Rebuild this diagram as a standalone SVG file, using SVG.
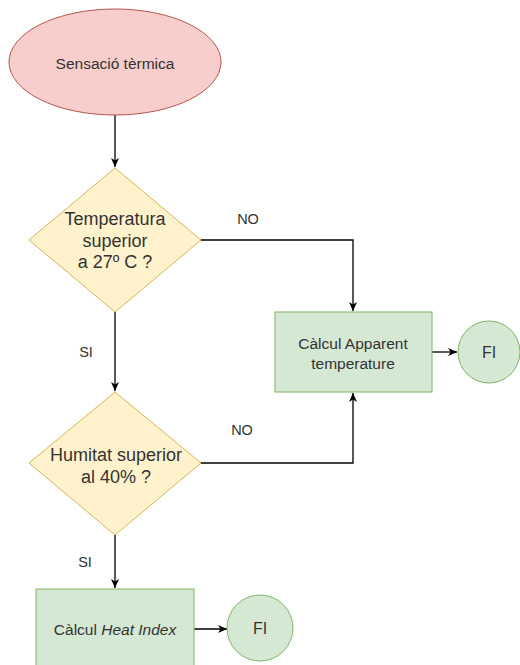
<svg xmlns="http://www.w3.org/2000/svg" width="520" height="665" viewBox="0 0 520 665">
<defs>
<marker id="arr" markerWidth="10" markerHeight="10" refX="9" refY="4" orient="auto" markerUnits="userSpaceOnUse">
<path d="M0,0 L9,4 L0,8 L2.5,4 Z" fill="#000"/>
</marker>
<style>
text{font-family:"Liberation Sans",Arial,sans-serif;fill:#333;text-anchor:middle;dominant-baseline:central}
.start{fill:#f8cecc;stroke:#b85450;stroke-width:1}
.dec{fill:#fff2cc;stroke:#d6b656;stroke-width:1}
.proc{fill:#d5e8d4;stroke:#82b366;stroke-width:1}
.edge{fill:none;stroke:#000;stroke-width:1.3;marker-end:url(#arr)}
.big{font-size:18px}
.mid{font-size:15.5px}
.lbl{font-size:14.5px}
.fi{font-size:16px}
</style>
</defs>
<rect width="520" height="665" fill="#fff"/>
<g id="connectors">
<path class="edge" d="M115,115 V167"/>
<path class="edge" d="M201,240 H353 V311"/>
<path class="edge" d="M115,312 V391"/>
<path class="edge" d="M201,463 H353 V393"/>
<path class="edge" d="M115,535 V588"/>
<path class="edge" d="M432,352 H457"/>
<path class="edge" d="M194,629 H227"/>
</g>
<g id="edge-labels">
<text class="lbl" x="248" y="219">NO</text>
<text class="lbl" x="86" y="352">SI</text>
<text class="lbl" x="242" y="430">NO</text>
<text class="lbl" x="85" y="562">SI</text>
</g>
<g id="start">
<ellipse class="start" cx="115" cy="62" rx="106" ry="53"/>
<text class="mid" x="115" y="63">Sensació tèrmica</text>
</g>
<g id="dec-temp">
<polygon class="dec" points="115,168 201,240 115,312 29,240"/>
<text class="big" x="115" y="219">Temperatura</text>
<text class="big" x="115" y="241">superior</text>
<text class="big" x="115" y="262">a 27º C ?</text>
</g>
<g id="dec-hum">
<polygon class="dec" points="115,392 201,463 115,535 29,463"/>
<text class="big" x="116" y="455">Humitat superior</text>
<text class="big" x="116" y="477">al 40% ?</text>
</g>
<g id="proc-apparent">
<rect class="proc" x="275" y="312" width="157" height="80"/>
<text class="mid" x="353" y="343">Càlcul Apparent</text>
<text class="mid" x="353" y="363">temperature</text>
</g>
<g id="end-1">
<circle class="proc" cx="489" cy="352" r="31"/>
<text class="fi" x="489" y="352">FI</text>
</g>
<g id="proc-heat">
<rect class="proc" x="36" y="589" width="158" height="80"/>
<text class="mid" x="115" y="629">Càlcul <tspan font-style="italic">Heat Index</tspan></text>
</g>
<g id="end-2">
<circle class="proc" cx="260" cy="628" r="33"/>
<text class="fi" x="260" y="628">FI</text>
</g>
</svg>
